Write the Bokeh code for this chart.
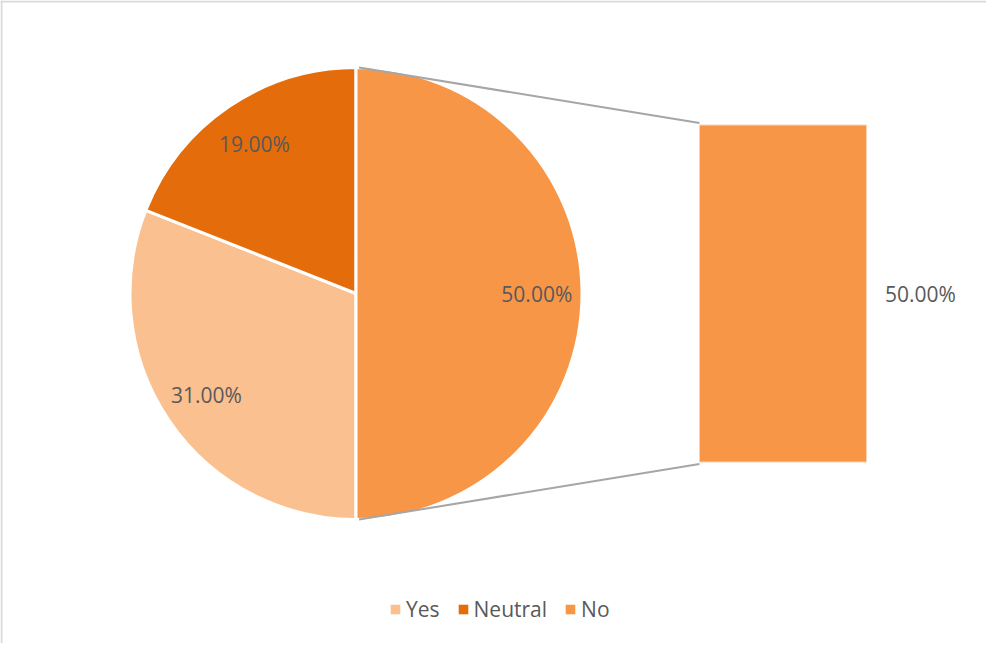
import math
from bokeh.plotting import figure
from bokeh.models import Range1d, Span, Legend, LegendItem, ColumnDataSource
from bokeh.core.properties import value
from bokeh.embed import file_html
from bokeh.resources import INLINE

# ---- data ----
categories = ["Yes", "Neutral", "No"]
percentages = [31.0, 19.0, 50.0]
colors = ["#FAC090", "#E46C0A", "#F79646"]
split_category = "No"          # slice taken out into the bar
labels = [f"{v:.2f}%" for v in percentages]

# ---- layout (pixels) ----
W, H = 986, 643
cx, cy, R = 355.5, 350.0, 226.0
bar_left, bar_right = 699.0, 866.0
px_per_pct = 337.0 / 50.0
label_frac = 0.80
font = "Open Sans"
text_color = "#595959"
fs = "21px"

p = figure(width=W, height=H, output_backend="svg", toolbar_location=None,
           x_range=Range1d(0, W), y_range=Range1d(0, H),
           x_axis_location=None, y_axis_location=None, min_border=0)
p.grid.visible = False
p.outline_line_color = None
p.background_fill_color = "white"
p.border_fill_color = "white"

# border (top + left visible in window)
p.add_layout(Span(location=H - 1, dimension="width", line_color="#D9D9D9", line_width=2))
p.add_layout(Span(location=1, dimension="height", line_color="#D9D9D9", line_width=2))

# ---- pie: order clockwise starting with split slice centred at 0 rad ----
total = sum(percentages)
si = categories.index(split_category)
order = [si] + [i for i in range(len(categories)) if i != si]
start = percentages[si] / total * math.pi
starts, ends, mids = {}, {}, {}
a = start
for i in order:
    sweep = percentages[i] / total * 2 * math.pi
    starts[i] = a
    ends[i] = a - sweep
    mids[i] = a - sweep / 2
    a -= sweep

idx = list(range(len(categories)))
src = ColumnDataSource(dict(
    cat=categories, val=percentages, color=colors,
    start=[starts[i] for i in idx], end=[ends[i] for i in idx],
    lx=[cx + label_frac * R * math.cos(mids[i]) for i in idx],
    ly=[cy + label_frac * R * math.sin(mids[i]) for i in idx],
    lab=labels,
))
p.wedge(x=cx, y=cy, radius=R, start_angle="start", end_angle="end",
        direction="clock", fill_color="color", line_color="white",
        line_width=3, source=src)
p.text(x="lx", y="ly", text="lab", source=src, text_align="center",
       text_baseline="middle", text_font=value(font), text_font_size=fs,
       text_color=text_color)

# ---- bar of pie ----
bh = percentages[si] * px_per_pct
btop, bbot = cy + bh / 2, cy - bh / 2
p.quad(left=[bar_left], right=[bar_right], top=[btop], bottom=[bbot],
       fill_color=colors[si], line_color="#FBD3B0", line_width=1)
p.text(x=[bar_right + 54], y=[cy], text=[labels[si]], text_align="center",
       text_baseline="middle", text_font=value(font), text_font_size=fs,
       text_color=text_color)

# connector lines
ta, ba = starts[si], ends[si]
p.segment(x0=[cx + R * math.cos(ta) + 3, cx + R * math.cos(ba) + 3],
          y0=[cy + R * math.sin(ta), cy + R * math.sin(ba)],
          x1=[bar_left, bar_left], y1=[btop + 2, bbot - 2],
          line_color="#A6A6A6", line_width=2)

# ---- legend (swatch renderer without outline, not drawn in plot) ----
nan = float("nan")
sw_src = ColumnDataSource(dict(cat=categories, color=colors,
                               l=[nan] * 3, r=[nan] * 3, t=[nan] * 3, b=[nan] * 3))
sw = p.quad(left="l", right="r", top="t", bottom="b", fill_color="color",
            line_color=None, source=sw_src)
items = [LegendItem(label=c, renderers=[sw], index=i) for i, c in enumerate(categories)]
legend = Legend(items=items, orientation="horizontal", location=(389, 20),
                label_text_font=font, label_text_font_size=fs,
                label_text_color=text_color, glyph_width=12, glyph_height=12,
                label_standoff=5, spacing=17, padding=0, margin=0,
                border_line_color=None, background_fill_alpha=0)
p.add_layout(legend)

open("out.html", "w").write(file_html(p, INLINE))
